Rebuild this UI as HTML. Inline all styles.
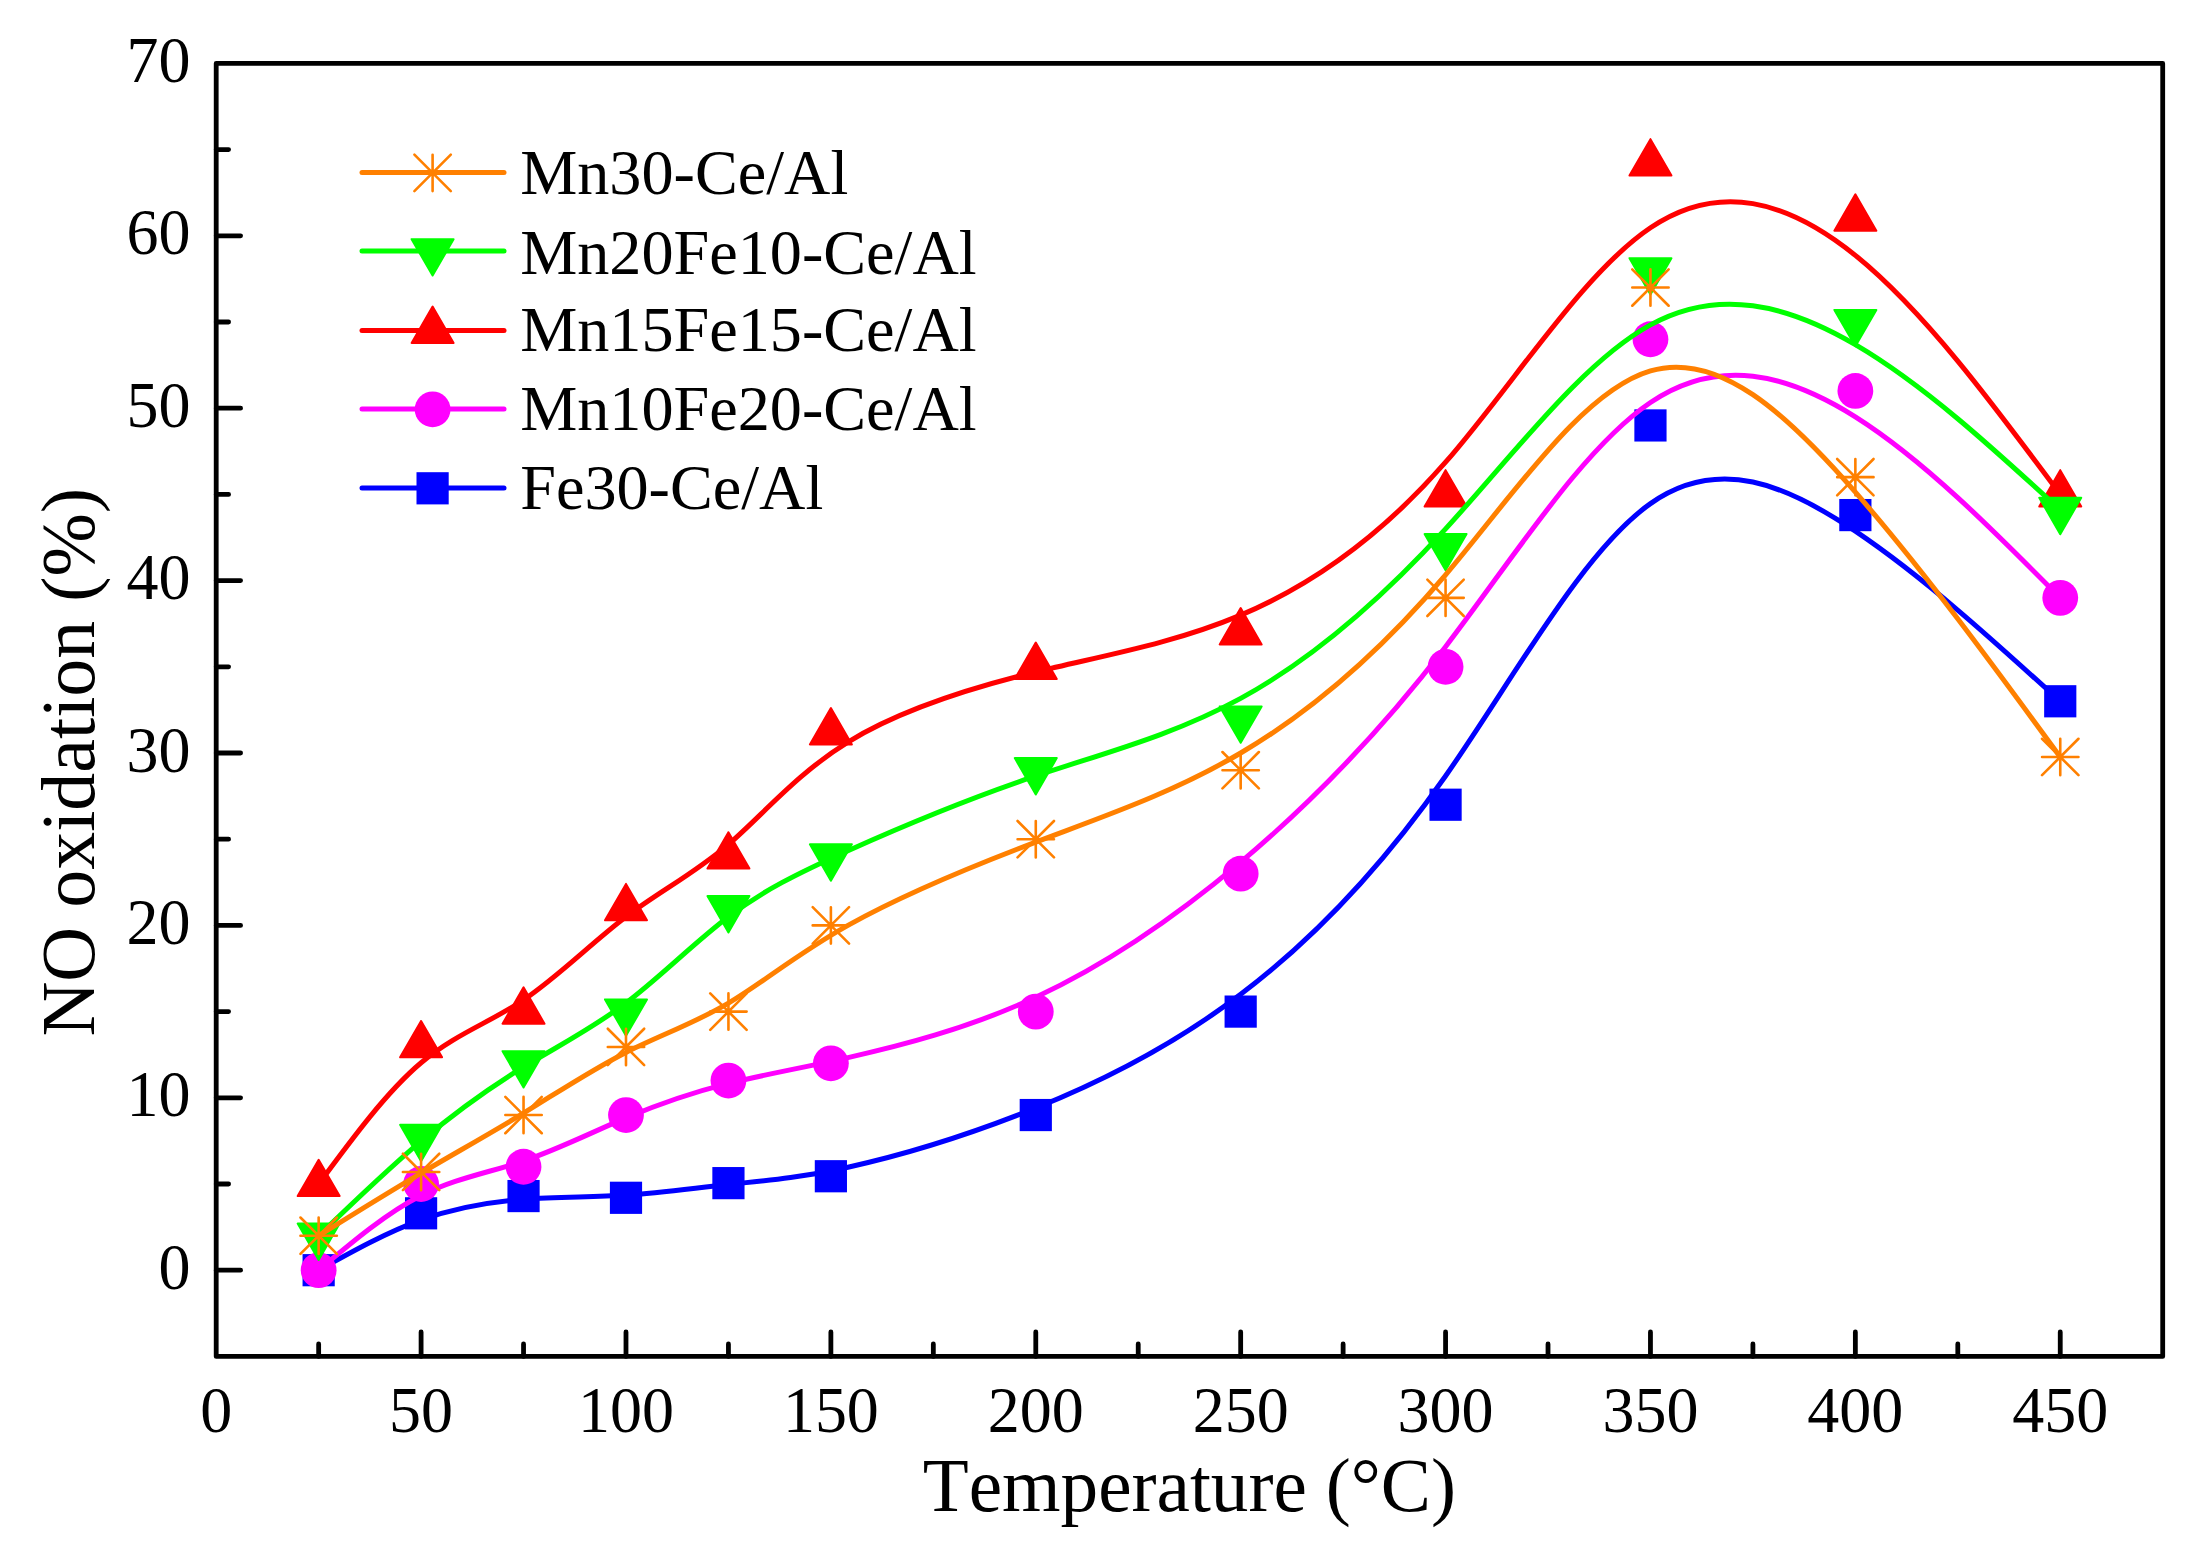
<!DOCTYPE html>
<html lang="en"><head><meta charset="utf-8"><title>NO oxidation vs temperature</title>
<style>html,body{margin:0;padding:0;background:#fff}body{width:2195px;height:1564px;overflow:hidden}svg{display:block}text{font-family:"Liberation Serif","Times New Roman",Times,serif;fill:#000;font-kerning:none;font-variant-ligatures:none}.tk{font-size:64px}.ti{font-size:75.2px}.ty{font-size:76px}.lg{font-size:64.2px}</style></head><body>
<svg width="2195" height="1564" viewBox="0 0 2195 1564">
<rect width="2195" height="1564" fill="#fff"/>
<g>
<path d="M318.65 1270.2C352.8 1251.24 386.95 1232.27 421.09 1219.92C455.24 1207.56 489.39 1201.81 523.54 1199.23C557.69 1196.64 591.84 1197.22 625.99 1195.06C660.14 1192.91 694.29 1188.02 728.44 1184.43C762.59 1180.84 796.74 1178.54 847.96 1167.19C899.18 1155.84 967.48 1135.44 1035.78 1108C1104.08 1080.56 1172.38 1046.08 1240.67 994.36C1308.97 942.64 1377.27 873.68 1445.57 775.99C1513.87 678.29 1582.16 551.87 1650.46 503.59C1718.76 455.32 1787.06 485.21 1855.36 531.18C1923.66 577.15 1991.95 639.22 2060.25 701.28" fill="none" stroke="#0000ff" stroke-width="5" stroke-linecap="round" stroke-linejoin="round"/>
<rect x="302.55" y="1254.1" width="32.2" height="32.2" fill="#0000ff"/>
<rect x="404.99" y="1197.21" width="32.2" height="32.2" fill="#0000ff"/>
<rect x="507.44" y="1179.97" width="32.2" height="32.2" fill="#0000ff"/>
<rect x="609.89" y="1181.69" width="32.2" height="32.2" fill="#0000ff"/>
<rect x="712.34" y="1167.04" width="32.2" height="32.2" fill="#0000ff"/>
<rect x="814.78" y="1160.14" width="32.2" height="32.2" fill="#0000ff"/>
<rect x="1019.68" y="1098.94" width="32.2" height="32.2" fill="#0000ff"/>
<rect x="1224.57" y="995.5" width="32.2" height="32.2" fill="#0000ff"/>
<rect x="1429.47" y="788.62" width="32.2" height="32.2" fill="#0000ff"/>
<rect x="1634.36" y="409.34" width="32.2" height="32.2" fill="#0000ff"/>
<rect x="1839.26" y="498.99" width="32.2" height="32.2" fill="#0000ff"/>
<rect x="2044.15" y="685.18" width="32.2" height="32.2" fill="#0000ff"/>
</g>
<g>
<path d="M318.65 1270.2C352.8 1241.47 386.95 1212.73 421.09 1195.49C455.24 1178.25 489.39 1172.51 523.54 1161.01C557.69 1149.52 591.84 1132.28 625.99 1117.91C660.14 1103.55 694.29 1092.05 728.44 1083.43C762.59 1074.81 796.74 1069.07 847.96 1057.57C899.18 1046.08 967.48 1028.84 1035.78 997.23C1104.08 965.63 1172.38 919.65 1240.67 862.19C1308.97 804.72 1377.27 735.76 1445.57 646.69C1513.87 557.61 1582.16 448.43 1650.46 402.45C1718.76 356.48 1787.06 373.72 1855.36 416.82C1923.66 459.92 1991.95 528.88 2060.25 597.84" fill="none" stroke="#ff00ff" stroke-width="5" stroke-linecap="round" stroke-linejoin="round"/>
<circle cx="318.65" cy="1270.2" r="17.9" fill="#ff00ff"/>
<circle cx="421.09" cy="1184" r="17.9" fill="#ff00ff"/>
<circle cx="523.54" cy="1166.76" r="17.9" fill="#ff00ff"/>
<circle cx="625.99" cy="1115.04" r="17.9" fill="#ff00ff"/>
<circle cx="728.44" cy="1080.56" r="17.9" fill="#ff00ff"/>
<circle cx="830.88" cy="1063.32" r="17.9" fill="#ff00ff"/>
<circle cx="1035.78" cy="1011.6" r="17.9" fill="#ff00ff"/>
<circle cx="1240.67" cy="873.68" r="17.9" fill="#ff00ff"/>
<circle cx="1445.57" cy="666.8" r="17.9" fill="#ff00ff"/>
<circle cx="1650.46" cy="339.24" r="17.9" fill="#ff00ff"/>
<circle cx="1855.36" cy="390.96" r="17.9" fill="#ff00ff"/>
<circle cx="2060.25" cy="597.84" r="17.9" fill="#ff00ff"/>
</g>
<g>
<path d="M318.65 1184C352.8 1137.74 386.95 1091.48 421.09 1062.75C455.24 1034.01 489.39 1022.81 523.54 999.96C557.69 977.12 591.84 942.64 625.99 916.78C660.14 890.92 694.29 873.68 728.44 844.37C762.59 815.06 796.74 773.69 847.96 742.08C899.18 710.47 967.48 688.64 1035.78 671.97C1104.08 655.31 1172.38 643.81 1240.67 615.08C1308.97 586.35 1377.27 540.37 1445.57 462.22C1513.87 384.06 1582.16 273.73 1650.46 227.75C1718.76 181.78 1787.06 200.17 1855.36 255.34C1923.66 310.51 1991.95 402.45 2060.25 494.4" fill="none" stroke="#ff0000" stroke-width="5" stroke-linecap="round" stroke-linejoin="round"/>
<polygon points="318.65,1159.75 297.65,1196.12 339.65,1196.12" fill="#ff0000" stroke="#ff0000" stroke-width="2" stroke-linejoin="round"/>
<polygon points="421.09,1020.97 400.09,1057.34 442.09,1057.34" fill="#ff0000" stroke="#ff0000" stroke-width="2" stroke-linejoin="round"/>
<polygon points="523.54,987.35 502.54,1023.72 544.54,1023.72" fill="#ff0000" stroke="#ff0000" stroke-width="2" stroke-linejoin="round"/>
<polygon points="625.99,883.91 604.99,920.28 646.99,920.28" fill="#ff0000" stroke="#ff0000" stroke-width="2" stroke-linejoin="round"/>
<polygon points="728.44,832.19 707.44,868.56 749.44,868.56" fill="#ff0000" stroke="#ff0000" stroke-width="2" stroke-linejoin="round"/>
<polygon points="830.88,708.06 809.88,744.44 851.88,744.44" fill="#ff0000" stroke="#ff0000" stroke-width="2" stroke-linejoin="round"/>
<polygon points="1035.78,642.55 1014.78,678.92 1056.78,678.92" fill="#ff0000" stroke="#ff0000" stroke-width="2" stroke-linejoin="round"/>
<polygon points="1240.67,608.07 1219.67,644.44 1261.67,644.44" fill="#ff0000" stroke="#ff0000" stroke-width="2" stroke-linejoin="round"/>
<polygon points="1445.57,470.15 1424.57,506.52 1466.57,506.52" fill="#ff0000" stroke="#ff0000" stroke-width="2" stroke-linejoin="round"/>
<polygon points="1650.46,139.14 1629.46,175.52 1671.46,175.52" fill="#ff0000" stroke="#ff0000" stroke-width="2" stroke-linejoin="round"/>
<polygon points="1855.36,194.31 1834.36,230.68 1876.36,230.68" fill="#ff0000" stroke="#ff0000" stroke-width="2" stroke-linejoin="round"/>
<polygon points="2060.25,470.15 2039.25,506.52 2081.25,506.52" fill="#ff0000" stroke="#ff0000" stroke-width="2" stroke-linejoin="round"/>
</g>
<g>
<path d="M318.65 1235.72C352.8 1202.79 386.95 1169.86 421.09 1141.13C455.24 1112.4 489.39 1087.86 523.54 1066.97C557.69 1046.08 591.84 1028.84 625.99 1002.98C660.14 977.12 694.29 942.64 728.44 916.78C762.59 890.92 796.74 873.68 847.96 850.69C899.18 827.71 967.48 798.97 1035.78 775.99C1104.08 753 1172.38 735.76 1240.67 698.41C1308.97 661.05 1377.27 603.59 1445.57 528.88C1513.87 454.17 1582.16 362.23 1650.46 324.87C1718.76 287.52 1787.06 304.76 1855.36 344.7C1923.66 384.64 1991.95 447.28 2060.25 509.92" fill="none" stroke="#00ff00" stroke-width="5" stroke-linecap="round" stroke-linejoin="round"/>
<polygon points="318.65,1259.97 297.65,1223.6 339.65,1223.6" fill="#00ff00" stroke="#00ff00" stroke-width="2" stroke-linejoin="round"/>
<polygon points="421.09,1161.18 400.09,1124.81 442.09,1124.81" fill="#00ff00" stroke="#00ff00" stroke-width="2" stroke-linejoin="round"/>
<polygon points="523.54,1087.57 502.54,1051.2 544.54,1051.2" fill="#00ff00" stroke="#00ff00" stroke-width="2" stroke-linejoin="round"/>
<polygon points="625.99,1035.85 604.99,999.48 646.99,999.48" fill="#00ff00" stroke="#00ff00" stroke-width="2" stroke-linejoin="round"/>
<polygon points="728.44,932.41 707.44,896.04 749.44,896.04" fill="#00ff00" stroke="#00ff00" stroke-width="2" stroke-linejoin="round"/>
<polygon points="830.88,880.69 809.88,844.32 851.88,844.32" fill="#00ff00" stroke="#00ff00" stroke-width="2" stroke-linejoin="round"/>
<polygon points="1035.78,794.49 1014.78,758.12 1056.78,758.12" fill="#00ff00" stroke="#00ff00" stroke-width="2" stroke-linejoin="round"/>
<polygon points="1240.67,742.77 1219.67,706.4 1261.67,706.4" fill="#00ff00" stroke="#00ff00" stroke-width="2" stroke-linejoin="round"/>
<polygon points="1445.57,570.37 1424.57,534 1466.57,534" fill="#00ff00" stroke="#00ff00" stroke-width="2" stroke-linejoin="round"/>
<polygon points="1650.46,294.53 1629.46,258.16 1671.46,258.16" fill="#00ff00" stroke="#00ff00" stroke-width="2" stroke-linejoin="round"/>
<polygon points="1855.36,346.25 1834.36,309.88 1876.36,309.88" fill="#00ff00" stroke="#00ff00" stroke-width="2" stroke-linejoin="round"/>
<polygon points="2060.25,534.16 2039.25,497.79 2081.25,497.79" fill="#00ff00" stroke="#00ff00" stroke-width="2" stroke-linejoin="round"/>
</g>
<g>
<path d="M318.65 1235.72C352.8 1214.46 386.95 1193.19 421.09 1173.08C455.24 1152.97 489.39 1134 523.54 1113.17C557.69 1092.34 591.84 1069.64 625.99 1052.4C660.14 1035.16 694.29 1023.38 728.44 1003.12C762.59 982.87 796.74 954.13 847.96 925.4C899.18 896.67 967.48 867.93 1035.78 842.07C1104.08 816.21 1172.38 793.23 1240.67 753C1308.97 712.77 1377.27 655.31 1445.57 574.85C1513.87 494.4 1582.16 390.96 1650.46 370.85C1718.76 350.73 1787.06 413.95 1855.36 492.19C1923.66 570.43 1991.95 663.7 2060.25 756.97" fill="none" stroke="#ff8000" stroke-width="5" stroke-linecap="round" stroke-linejoin="round"/>
<path d="M300.45 1235.72H336.85M318.65 1217.52V1253.92M300.45 1217.52L336.85 1253.92M300.45 1253.92L336.85 1217.52" stroke="#ff8000" stroke-width="2.6" stroke-linecap="round" fill="none"/>
<path d="M402.89 1171.93H439.29M421.09 1153.73V1190.13M402.89 1153.73L439.29 1190.13M402.89 1190.13L439.29 1153.73" stroke="#ff8000" stroke-width="2.6" stroke-linecap="round" fill="none"/>
<path d="M505.34 1115.04H541.74M523.54 1096.84V1133.24M505.34 1096.84L541.74 1133.24M505.34 1133.24L541.74 1096.84" stroke="#ff8000" stroke-width="2.6" stroke-linecap="round" fill="none"/>
<path d="M607.79 1046.94H644.19M625.99 1028.74V1065.14M607.79 1028.74L644.19 1065.14M607.79 1065.14L644.19 1028.74" stroke="#ff8000" stroke-width="2.6" stroke-linecap="round" fill="none"/>
<path d="M710.24 1011.6H746.64M728.44 993.4V1029.8M710.24 993.4L746.64 1029.8M710.24 1029.8L746.64 993.4" stroke="#ff8000" stroke-width="2.6" stroke-linecap="round" fill="none"/>
<path d="M812.68 925.4H849.08M830.88 907.2V943.6M812.68 907.2L849.08 943.6M812.68 943.6L849.08 907.2" stroke="#ff8000" stroke-width="2.6" stroke-linecap="round" fill="none"/>
<path d="M1017.58 839.2H1053.98M1035.78 821V857.4M1017.58 821L1053.98 857.4M1017.58 857.4L1053.98 821" stroke="#ff8000" stroke-width="2.6" stroke-linecap="round" fill="none"/>
<path d="M1222.47 770.24H1258.87M1240.67 752.04V788.44M1222.47 752.04L1258.87 788.44M1222.47 788.44L1258.87 752.04" stroke="#ff8000" stroke-width="2.6" stroke-linecap="round" fill="none"/>
<path d="M1427.37 597.84H1463.77M1445.57 579.64V616.04M1427.37 579.64L1463.77 616.04M1427.37 616.04L1463.77 579.64" stroke="#ff8000" stroke-width="2.6" stroke-linecap="round" fill="none"/>
<path d="M1632.26 287.52H1668.66M1650.46 269.32V305.72M1632.26 269.32L1668.66 305.72M1632.26 305.72L1668.66 269.32" stroke="#ff8000" stroke-width="2.6" stroke-linecap="round" fill="none"/>
<path d="M1837.16 477.16H1873.56M1855.36 458.96V495.36M1837.16 458.96L1873.56 495.36M1837.16 495.36L1873.56 458.96" stroke="#ff8000" stroke-width="2.6" stroke-linecap="round" fill="none"/>
<path d="M2042.05 756.97H2078.45M2060.25 738.77V775.17M2042.05 738.77L2078.45 775.17M2042.05 775.17L2078.45 738.77" stroke="#ff8000" stroke-width="2.6" stroke-linecap="round" fill="none"/>
</g>
<path d="M318.65 1356.4V1344M421.09 1356.4V1332M523.54 1356.4V1344M625.99 1356.4V1332M728.44 1356.4V1344M830.88 1356.4V1332M933.33 1356.4V1344M1035.78 1356.4V1332M1138.23 1356.4V1344M1240.67 1356.4V1332M1343.12 1356.4V1344M1445.57 1356.4V1332M1548.02 1356.4V1344M1650.46 1356.4V1332M1752.91 1356.4V1344M1855.36 1356.4V1332M1957.81 1356.4V1344M2060.25 1356.4V1332M216.2 1270.2H240.6M216.2 1184H228.6M216.2 1097.8H240.6M216.2 1011.6H228.6M216.2 925.4H240.6M216.2 839.2H228.6M216.2 753H240.6M216.2 666.8H228.6M216.2 580.6H240.6M216.2 494.4H228.6M216.2 408.2H240.6M216.2 322H228.6M216.2 235.8H240.6M216.2 149.6H228.6" stroke="#000" stroke-width="4.8" stroke-linecap="round" fill="none"/>
<rect x="216.2" y="63.4" width="1946.5" height="1293" fill="none" stroke="#000" stroke-width="4.8" stroke-linejoin="round"/>
<text class="tk" transform="translate(216.2 1431.8) scale(1 1.026)" text-anchor="middle">0</text>
<text class="tk" transform="translate(421.09 1431.8) scale(1 1.026)" text-anchor="middle">50</text>
<text class="tk" transform="translate(625.99 1431.8) scale(1 1.026)" text-anchor="middle">100</text>
<text class="tk" transform="translate(830.88 1431.8) scale(1 1.026)" text-anchor="middle">150</text>
<text class="tk" transform="translate(1035.78 1431.8) scale(1 1.026)" text-anchor="middle">200</text>
<text class="tk" transform="translate(1240.67 1431.8) scale(1 1.026)" text-anchor="middle">250</text>
<text class="tk" transform="translate(1445.57 1431.8) scale(1 1.026)" text-anchor="middle">300</text>
<text class="tk" transform="translate(1650.46 1431.8) scale(1 1.026)" text-anchor="middle">350</text>
<text class="tk" transform="translate(1855.36 1431.8) scale(1 1.026)" text-anchor="middle">400</text>
<text class="tk" transform="translate(2060.25 1431.8) scale(1 1.026)" text-anchor="middle">450</text>
<text class="tk" transform="translate(190.5 1288.7) scale(1 1.026)" text-anchor="end">0</text>
<text class="tk" transform="translate(190.5 1116.3) scale(1 1.026)" text-anchor="end">10</text>
<text class="tk" transform="translate(190.5 943.9) scale(1 1.026)" text-anchor="end">20</text>
<text class="tk" transform="translate(190.5 771.5) scale(1 1.026)" text-anchor="end">30</text>
<text class="tk" transform="translate(190.5 599.1) scale(1 1.026)" text-anchor="end">40</text>
<text class="tk" transform="translate(190.5 426.7) scale(1 1.026)" text-anchor="end">50</text>
<text class="tk" transform="translate(190.5 254.3) scale(1 1.026)" text-anchor="end">60</text>
<text class="tk" transform="translate(190.5 81.9) scale(1 1.026)" text-anchor="end">70</text>
<text class="ti" x="1189.4" y="1511.2" text-anchor="middle">Temperature (°C)</text>
<text class="ty" transform="translate(93.6 762.2) rotate(-90)" text-anchor="middle">NO oxidation (%)</text>
<path d="M362 172.6H504" stroke="#ff8000" stroke-width="5" stroke-linecap="round" fill="none"/>
<path d="M414.4 172.9H450.8M432.6 154.7V191.1M414.4 154.7L450.8 191.1M414.4 191.1L450.8 154.7" stroke="#ff8000" stroke-width="2.6" stroke-linecap="round" fill="none"/>
<text class="lg" x="520.2" y="194.1">Mn30-Ce/Al</text>
<path d="M362 251H504" stroke="#00ff00" stroke-width="5" stroke-linecap="round" fill="none"/>
<polygon points="432.6,275.55 411.6,239.18 453.6,239.18" fill="#00ff00" stroke="#00ff00" stroke-width="2" stroke-linejoin="round"/>
<text class="lg" x="520.2" y="273.6">Mn20Fe10-Ce/Al</text>
<path d="M362 330.5H504" stroke="#ff0000" stroke-width="5" stroke-linecap="round" fill="none"/>
<polygon points="432.6,306.55 411.6,342.92 453.6,342.92" fill="#ff0000" stroke="#ff0000" stroke-width="2" stroke-linejoin="round"/>
<text class="lg" x="520.2" y="351.3">Mn15Fe15-Ce/Al</text>
<path d="M362 409H504" stroke="#ff00ff" stroke-width="5" stroke-linecap="round" fill="none"/>
<circle cx="432.6" cy="409.3" r="17.9" fill="#ff00ff"/>
<text class="lg" x="520.2" y="430.3">Mn10Fe20-Ce/Al</text>
<path d="M362 488H504" stroke="#0000ff" stroke-width="5" stroke-linecap="round" fill="none"/>
<rect x="416.5" y="472.2" width="32.2" height="32.2" fill="#0000ff"/>
<text class="lg" x="520.2" y="509.2">Fe30-Ce/Al</text>
</svg></body></html>
